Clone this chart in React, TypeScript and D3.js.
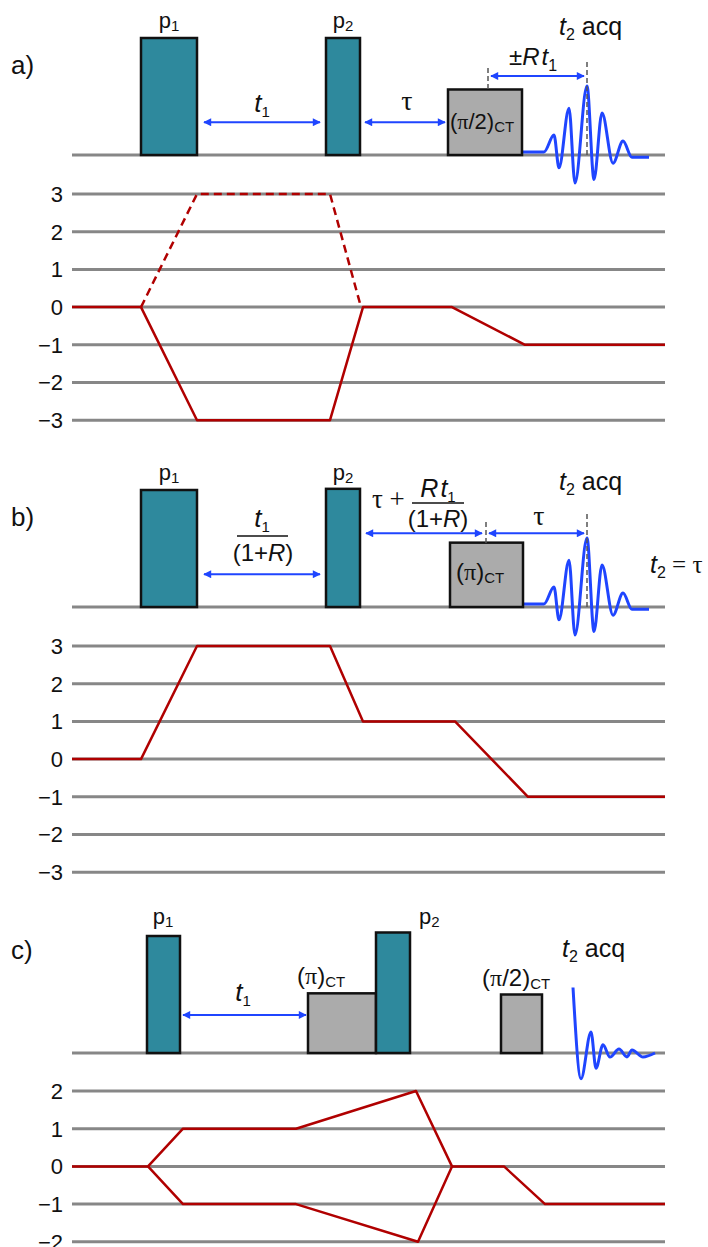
import React from "react";
import * as d3 from "d3";

// ---------------- data ----------------
const levelsAB = [3, 2, 1, 0, -1, -2, -3];
const levelsC = [2, 1, 0, -1, -2];

// coherence-transfer pathways: [time, coherence order]
const pathwayA: [number, number][] = [[0, 0], [69, 0], [125, -3], [258, -3], [291, 0], [380, 0], [453, -1], [593, -1]];
const pathwayADashed: [number, number][] = [[69, 0], [125, 3], [258, 3], [289, 0]];
const pathwayB: [number, number][] = [[0, 0], [69, 0], [125, 3], [258, 3], [291, 1], [383, 1], [456, -1], [593, -1]];
const pathwayCUp: [number, number][] = [[0, 0], [76, 0], [111, 1], [224, 1], [344, 2], [380, 0]];
const pathwayCDown: [number, number][] = [[76, 0], [111, -1], [224, -1], [346, -2], [380, 0]];
const pathwayCTail: [number, number][] = [[380, 0], [432, 0], [473, -1], [593, -1]];

// pulses: start time, end time, relative amplitude, type
const pulsesA = [
  { t0: 69, t1: 125, amp: 1, type: "hard" },
  { t0: 254, t1: 288, amp: 1, type: "hard" },
  { t0: 376, t1: 450, amp: 0.56, type: "ct" },
];
const pulsesB = [
  { t0: 69, t1: 125, amp: 1, type: "hard" },
  { t0: 254, t1: 288, amp: 1.01, type: "hard" },
  { t0: 378, t1: 451, amp: 0.55, type: "ct" },
];
const pulsesC = [
  { t0: 75, t1: 108, amp: 1, type: "hard" },
  { t0: 236, t1: 304, amp: 0.51, type: "ct" },
  { t0: 304, t1: 338, amp: 1.03, type: "hard" },
  { t0: 429, t1: 470, amp: 0.5, type: "ct" },
];

// delay arrows: start, end, height (relative amplitude)
const arrowsA = [{ t0: 131, t1: 249, amp: 0.28 }, { t0: 292, t1: 374, amp: 0.28 }, { t0: 418, t1: 513, amp: 0.675 }];
const arrowsB = [{ t0: 131, t1: 249, amp: 0.28 }, { t0: 293, t1: 411, amp: 0.63 }, { t0: 416, t1: 513, amp: 0.63 }];
const arrowsC = [{ t0: 110, t1: 235, amp: 0.325 }];

// dashed time markers
const markersA = [{ t: 416, a0: 0.564, a1: 0.77 }, { t: 515, a0: 0, a1: 0.795 }];
const markersB = [{ t: 414, a0: 0.547, a1: 0.726 }, { t: 515, a0: 0, a1: 0.8 }];

// acquired signals
const echoCentre = 515;
const echoTime = [-65, -43, -33, -28, -18, -12, 0, 7, 15, 26, 36, 45, 62];
const echoAmp = [0.026, 0.026, 0.17, -0.11, 0.4, -0.24, 0.59, -0.21, 0.36, -0.07, 0.12, -0.02, -0.02];
const fidTime = [501, 509, 519, 524, 531, 538, 547, 555, 560, 571, 583];
const fidAmp = [0.56, -0.22, 0.18, -0.13, 0.07, -0.035, 0.034, -0.034, 0.026, -0.034, 0];

// ---------------- styles ----------------
const sans = "'Liberation Sans', Arial, sans-serif";
const serif = "'Liberation Serif', 'Times New Roman', serif";
const GRID = "#878787";
const RED = "#b00000";
const BLUE = "#1f45ff";
const TEAL = "#2e899d";
const GREY = "#ababab";

const x = d3.scaleLinear().domain([0, 593]).range([72, 665]);

type PanelProps = {
  base: number;
  levels: number[];
  solid: [number, number][][];
  dashed: [number, number][][];
  pulses: { t0: number; t1: number; amp: number; type: string }[];
  arrows: { t0: number; t1: number; amp: number }[];
  markers: { t: number; a0: number; a1: number }[];
  sigT: number[];
  sigA: number[];
  gridTopOffset: number;
};

function Panel(p: PanelProps) {
  const amp = d3.scaleLinear().domain([0, 1]).range([p.base, p.base - 117]);
  const top = p.base + p.gridTopOffset;
  const y = d3
    .scaleLinear()
    .domain([p.levels[0], p.levels[p.levels.length - 1]])
    .range([top, top + (p.levels.length - 1) * 37.7]);
  const line = d3
    .line<[number, number]>()
    .x((d) => x(d[0]))
    .y((d) => y(d[1]));
  const sig = d3
    .line<number>()
    .x((_, i) => x(p.sigT[i]))
    .y((d) => amp(d))
    .curve(d3.curveMonotoneX);
  return (
    <g>
      <line x1={x(0)} x2={x(593)} y1={p.base} y2={p.base} stroke={GRID} strokeWidth={3} />
      <path d={sig(p.sigA) || ""} fill="none" stroke={BLUE} strokeWidth={3} />
      {p.pulses.map((q, i) => (
        <rect
          key={i}
          x={x(q.t0)}
          y={amp(q.amp)}
          width={x(q.t1) - x(q.t0)}
          height={p.base - amp(q.amp)}
          fill={q.type === "hard" ? TEAL : GREY}
          stroke="#111"
          strokeWidth={2.5}
        />
      ))}
      {p.markers.map((m, i) => (
        <line
          key={i}
          x1={x(m.t)}
          x2={x(m.t)}
          y1={amp(m.a0)}
          y2={amp(m.a1)}
          stroke="#555"
          strokeWidth={1.5}
          strokeDasharray="5,3"
        />
      ))}
      {p.arrows.map((a, i) => (
        <line
          key={i}
          x1={x(a.t0) + 1}
          x2={x(a.t1) - 1}
          y1={amp(a.amp)}
          y2={amp(a.amp)}
          stroke={BLUE}
          strokeWidth={2}
          markerStart="url(#ah)"
          markerEnd="url(#ah)"
        />
      ))}
      {p.levels.map((l) => (
        <g key={l}>
          <line x1={x(0)} x2={x(593)} y1={y(l)} y2={y(l)} stroke={GRID} strokeWidth={3} />
          <text
            x={63}
            y={y(l)}
            dy="0.36em"
            textAnchor="end"
            fontFamily={sans}
            fontSize={22}
            fill="#111"
          >
            {l < 0 ? "\u2212" + Math.abs(l) : String(l)}
          </text>
        </g>
      ))}
      {p.solid.map((s, i) => (
        <path key={i} d={line(s) || ""} fill="none" stroke={RED} strokeWidth={2.5} strokeLinejoin="round" />
      ))}
      {p.dashed.map((s, i) => (
        <path key={i} d={line(s) || ""} fill="none" stroke={RED} strokeWidth={2.5} strokeDasharray="8,5" />
      ))}
    </g>
  );
}

const T = (props: any) => <text fontFamily={sans} fill="#111" {...props} />;

export default function App() {
  const echoT = echoTime.map((d) => d + echoCentre);
  return (
    <svg
      width={708}
      height={1247}
      viewBox="0 0 708 1247"
      style={{ position: "absolute", left: 0, top: 0, background: "#fff" }}
    >
      <defs>
        <marker id="ah" viewBox="0 0 10 10" refX="9" refY="5" markerWidth="5" markerHeight="4" orient="auto-start-reverse">
          <path d="M0,0 L10,5 L0,10 z" fill={BLUE} />
        </marker>
      </defs>

      {/* ---------- panel a ---------- */}
      <Panel
        base={155}
        levels={levelsAB}
        solid={[pathwayA]}
        dashed={[pathwayADashed]}
        pulses={pulsesA}
        arrows={arrowsA}
        markers={markersA}
        sigT={echoT}
        sigA={echoAmp}
        gridTopOffset={39}
      />
      <T x={11} y={74} fontSize={26}>a)</T>
      <T x={169} y={28} fontSize={22} textAnchor="middle">p<tspan fontSize={15} dy={3}>1</tspan></T>
      <T x={343} y={28} fontSize={22} textAnchor="middle">p<tspan fontSize={15} dy={3}>2</tspan></T>
      <T x={262} y={112} fontSize={26} textAnchor="middle">
        <tspan fontStyle="italic">t</tspan>
        <tspan fontSize={15} dy={5}>1</tspan>
      </T>
      <T x={407} y={110} fontSize={28} textAnchor="middle" fontFamily={serif}>τ</T>
      <T x={450} y={129} fontSize={22}>
        (<tspan fontFamily={serif}>π</tspan>/2)<tspan fontSize={15} dy={3}>CT</tspan>
      </T>
      <T x={509} y={65} fontSize={24}>
        ±<tspan fontStyle="italic">R</tspan>
        <tspan fontStyle="italic" dx={2}>t</tspan>
        <tspan fontSize={16} dy={6}>1</tspan>
      </T>
      <T x={559} y={35} fontSize={25}>
        <tspan fontStyle="italic">t</tspan>
        <tspan fontSize={16} dy={5}>2</tspan>
        <tspan dy={-5}> acq</tspan>
      </T>

      {/* ---------- panel b ---------- */}
      <Panel
        base={607}
        levels={levelsAB}
        solid={[pathwayB]}
        dashed={[]}
        pulses={pulsesB}
        arrows={arrowsB}
        markers={markersB}
        sigT={echoT}
        sigA={echoAmp}
        gridTopOffset={39}
      />
      <T x={11} y={526} fontSize={26}>b)</T>
      <T x={169} y={480} fontSize={22} textAnchor="middle">p<tspan fontSize={15} dy={3}>1</tspan></T>
      <T x={343} y={480} fontSize={22} textAnchor="middle">p<tspan fontSize={15} dy={3}>2</tspan></T>
      <T x={262} y={527} fontSize={26} textAnchor="middle">
        <tspan fontStyle="italic">t</tspan>
        <tspan fontSize={15} dy={5}>1</tspan>
      </T>
      <line x1={237} x2={288} y1={536} y2={536} stroke="#111" strokeWidth={1.5} />
      <T x={263} y={561} fontSize={24} textAnchor="middle">
        (1+<tspan fontStyle="italic">R</tspan>)
      </T>
      <T x={372} y={508} fontSize={27} fontFamily={serif}>τ +</T>
      <T x={438} y={497} fontSize={25} textAnchor="middle">
        <tspan fontStyle="italic">R</tspan>
        <tspan fontStyle="italic" dx={2}>t</tspan>
        <tspan fontSize={15} dy={5}>1</tspan>
      </T>
      <line x1={412} x2={464} y1={503} y2={503} stroke="#111" strokeWidth={1.5} />
      <T x={438} y={527} fontSize={24} textAnchor="middle">
        (1+<tspan fontStyle="italic">R</tspan>)
      </T>
      <T x={539} y={525} fontSize={28} textAnchor="middle" fontFamily={serif}>τ</T>
      <T x={456} y={580} fontSize={24}>
        (<tspan fontFamily={serif}>π</tspan>)<tspan fontSize={15} dy={3}>CT</tspan>
      </T>
      <T x={559} y={490} fontSize={25}>
        <tspan fontStyle="italic">t</tspan>
        <tspan fontSize={16} dy={5}>2</tspan>
        <tspan dy={-5}> acq</tspan>
      </T>
      <T x={650} y={573} fontSize={25}>
        <tspan fontStyle="italic">t</tspan>
        <tspan fontSize={16} dy={5}>2</tspan>
        <tspan dy={-5} fontFamily={serif}> = τ</tspan>
      </T>

      {/* ---------- panel c ---------- */}
      <Panel
        base={1053}
        levels={levelsC}
        solid={[pathwayCUp, pathwayCDown, pathwayCTail]}
        dashed={[]}
        pulses={pulsesC}
        arrows={arrowsC}
        markers={[]}
        sigT={fidTime}
        sigA={fidAmp}
        gridTopOffset={38}
      />
      <T x={11} y={959} fontSize={26}>c)</T>
      <T x={163} y={924} fontSize={22} textAnchor="middle">p<tspan fontSize={15} dy={3}>1</tspan></T>
      <T x={419} y={924} fontSize={22}>p<tspan fontSize={15} dy={3}>2</tspan></T>
      <T x={243} y={1001} fontSize={26} textAnchor="middle">
        <tspan fontStyle="italic">t</tspan>
        <tspan fontSize={15} dy={5}>1</tspan>
      </T>
      <T x={297} y={984} fontSize={24}>
        (<tspan fontFamily={serif}>π</tspan>)<tspan fontSize={15} dy={3}>CT</tspan>
      </T>
      <T x={482} y={986} fontSize={24}>
        (<tspan fontFamily={serif}>π</tspan>/2)<tspan fontSize={15} dy={3}>CT</tspan>
      </T>
      <T x={562} y={957} fontSize={25}>
        <tspan fontStyle="italic">t</tspan>
        <tspan fontSize={16} dy={5}>2</tspan>
        <tspan dy={-5}> acq</tspan>
      </T>
    </svg>
  );
}
